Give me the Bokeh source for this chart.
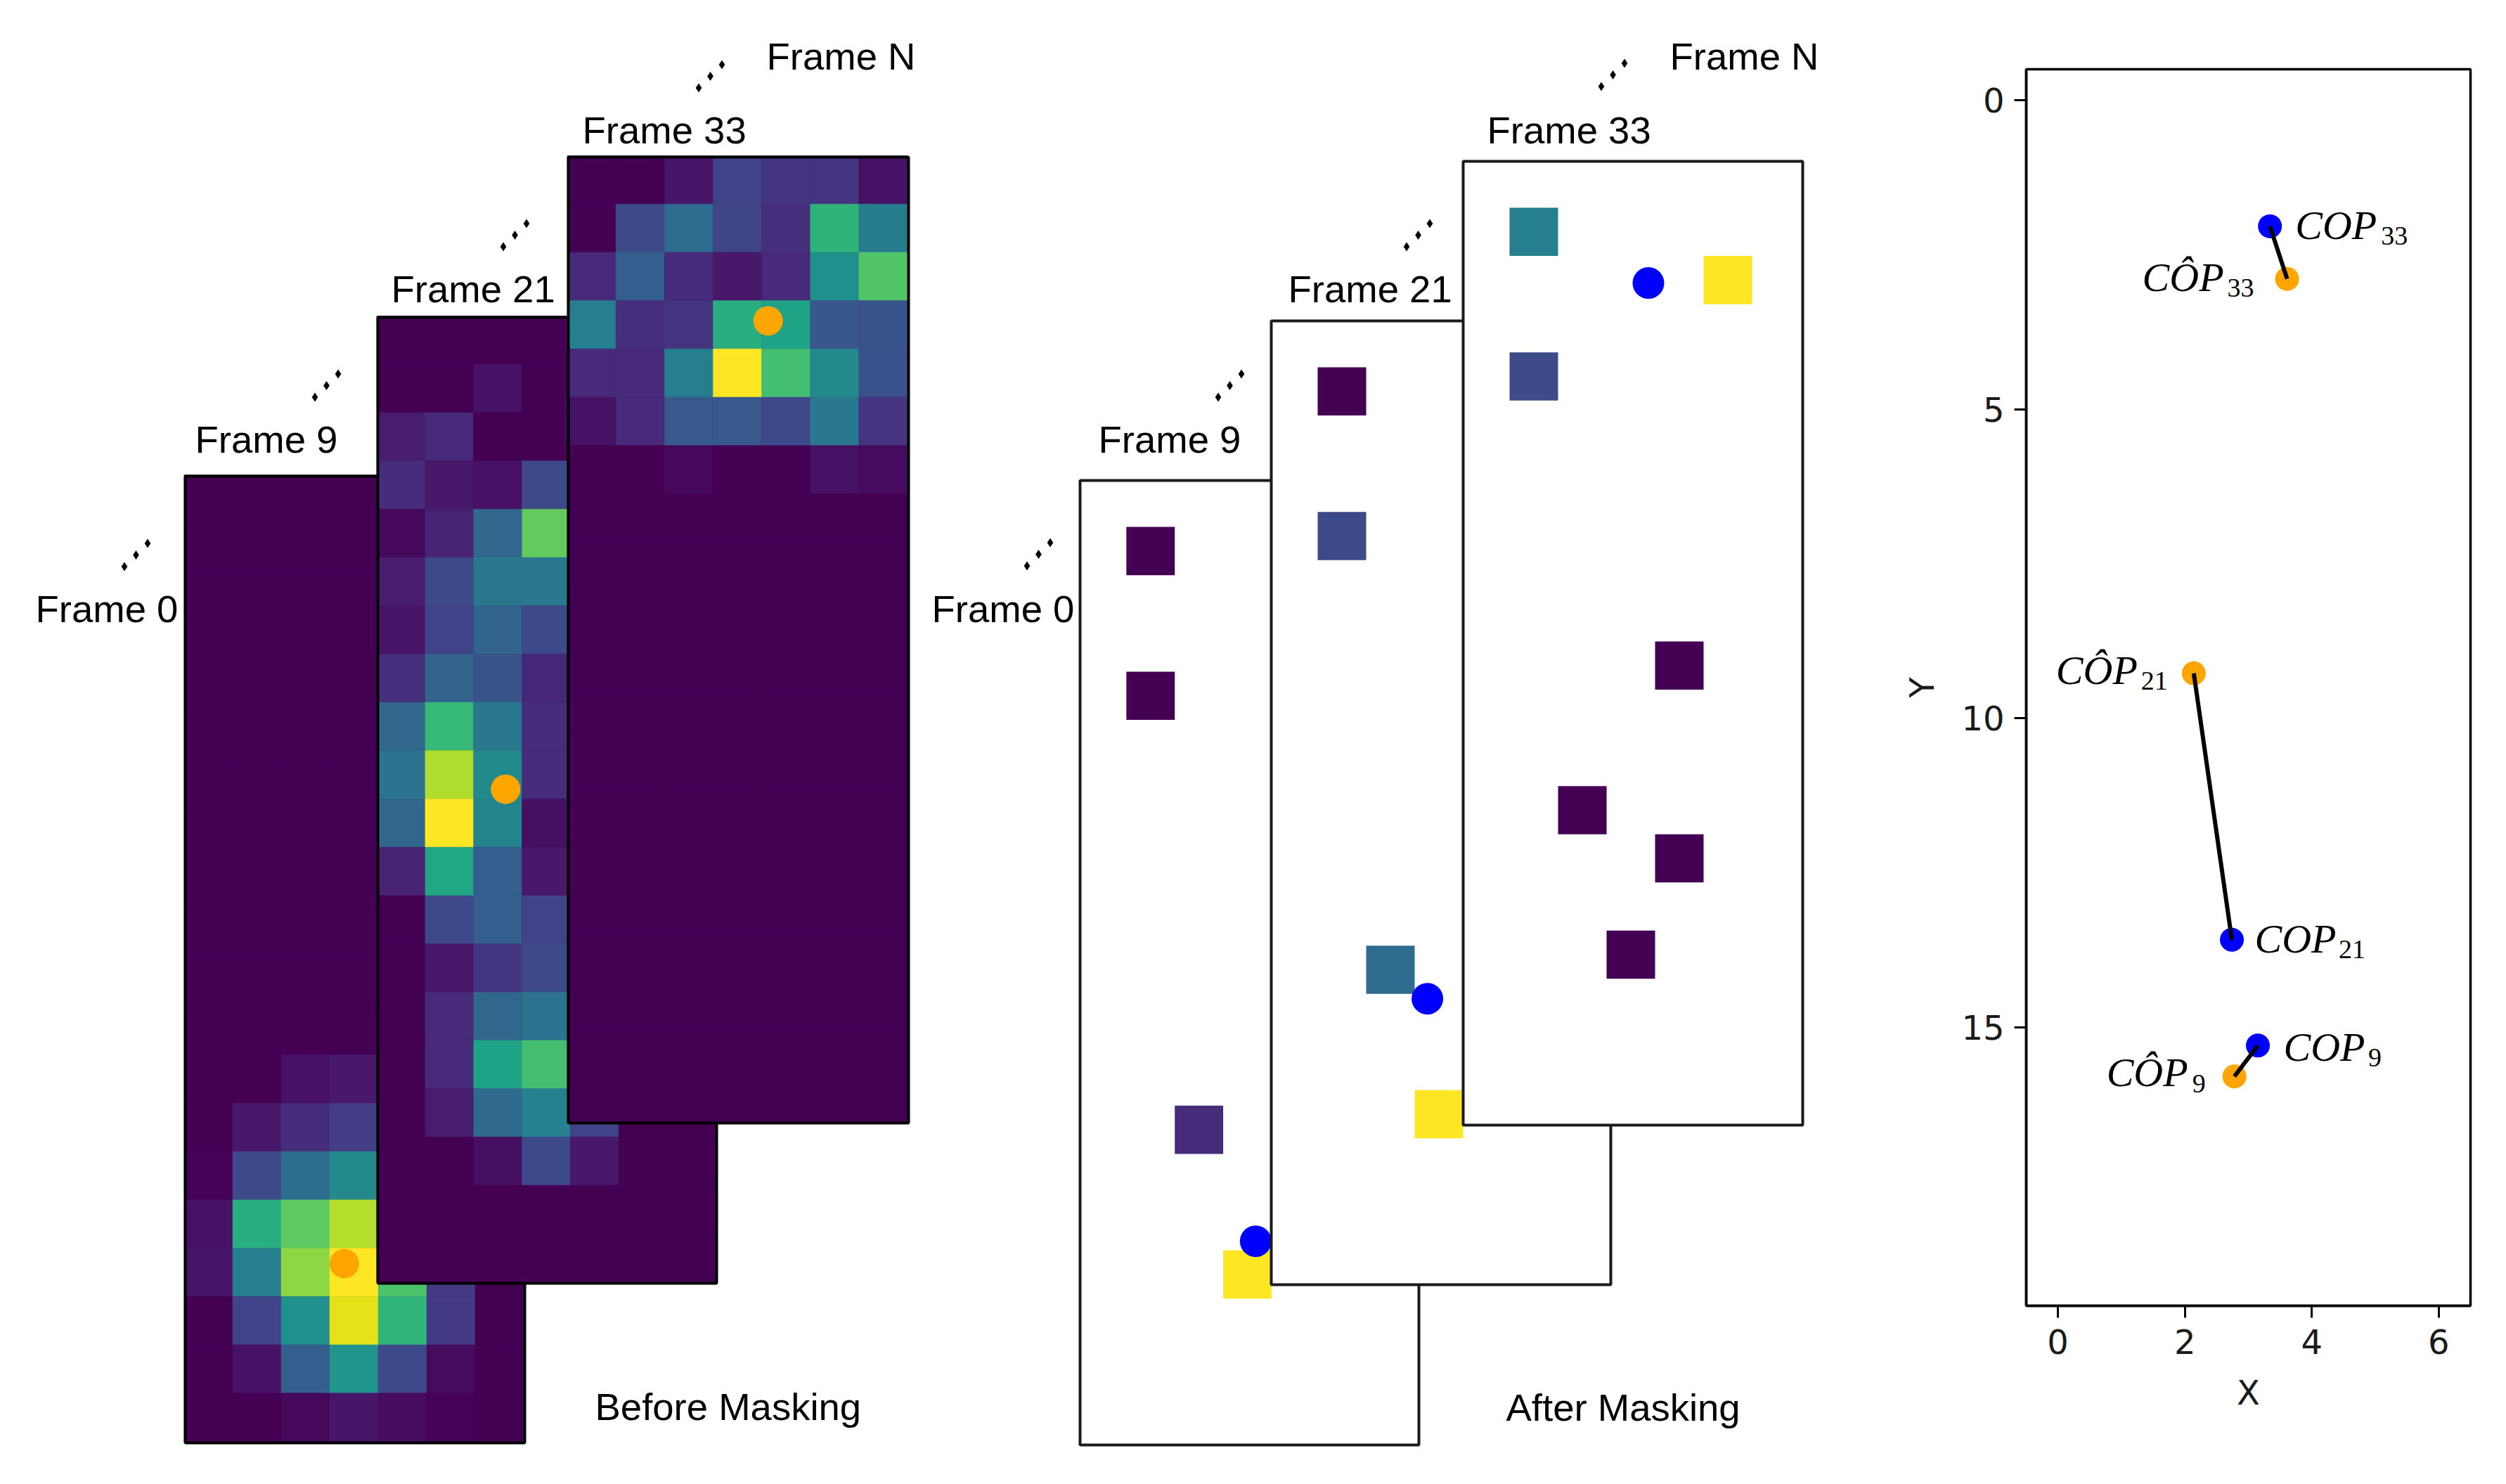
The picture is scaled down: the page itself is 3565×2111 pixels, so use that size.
from bokeh.plotting import figure
from bokeh.layouts import row, column
from bokeh.models import Range1d, ColumnDataSource, LinearColorMapper, FixedTicker
from bokeh.palettes import Viridis256
from bokeh.transform import transform
from bokeh.core.properties import value
from bokeh.embed import file_html
from bokeh.resources import INLINE

# ---------- data ----------
HEAT_9 = [
    [0]*7, [0]*7, [0]*7, [0]*7, [0]*7, [0]*7, [0]*7, [0]*7, [0]*7, [0]*7, [0]*7, [0]*7,
    [0.00, 0.00, 0.05, 0.07, 0.00, 0.00, 0.00],
    [0.00, 0.07, 0.13, 0.18, 0.00, 0.00, 0.00],
    [0.01, 0.22, 0.36, 0.47, 0.00, 0.00, 0.00],
    [0.05, 0.63, 0.75, 0.89, 0.00, 0.00, 0.00],
    [0.06, 0.43, 0.83, 1.00, 0.72, 0.17, 0.00],
    [0.00, 0.20, 0.50, 0.96, 0.66, 0.17, 0.00],
    [0.00, 0.05, 0.30, 0.52, 0.22, 0.03, 0.00],
    [0.00, 0.00, 0.02, 0.06, 0.03, 0.01, 0.00],
]
HEAT_21 = [
    [0.00, 0.00, 0.00, 0.00, 0.00, 0.00, 0.00],
    [0.00, 0.00, 0.05, 0.00, 0.00, 0.00, 0.00],
    [0.08, 0.12, 0.00, 0.00, 0.00, 0.00, 0.00],
    [0.13, 0.07, 0.05, 0.22, 0.00, 0.00, 0.00],
    [0.02, 0.10, 0.33, 0.76, 0.00, 0.00, 0.00],
    [0.08, 0.22, 0.40, 0.40, 0.00, 0.00, 0.00],
    [0.06, 0.20, 0.32, 0.22, 0.00, 0.00, 0.00],
    [0.14, 0.32, 0.26, 0.11, 0.00, 0.00, 0.00],
    [0.33, 0.67, 0.40, 0.13, 0.00, 0.00, 0.00],
    [0.38, 0.88, 0.48, 0.13, 0.00, 0.00, 0.00],
    [0.33, 1.00, 0.45, 0.04, 0.00, 0.00, 0.00],
    [0.10, 0.60, 0.30, 0.07, 0.00, 0.00, 0.00],
    [0.00, 0.22, 0.30, 0.20, 0.00, 0.00, 0.00],
    [0.00, 0.07, 0.16, 0.22, 0.00, 0.00, 0.00],
    [0.00, 0.12, 0.33, 0.38, 0.00, 0.00, 0.00],
    [0.00, 0.12, 0.58, 0.70, 0.00, 0.00, 0.00],
    [0.00, 0.08, 0.34, 0.44, 0.20, 0.00, 0.00],
    [0.00, 0.00, 0.04, 0.22, 0.07, 0.00, 0.00],
    [0]*7, [0]*7,
]
HEAT_33 = [
    [0.00, 0.00, 0.06, 0.20, 0.15, 0.15, 0.05],
    [0.00, 0.22, 0.35, 0.21, 0.14, 0.65, 0.42],
    [0.12, 0.30, 0.13, 0.07, 0.12, 0.50, 0.73],
    [0.43, 0.14, 0.15, 0.63, 0.58, 0.27, 0.26],
    [0.12, 0.12, 0.43, 1.00, 0.70, 0.47, 0.25],
    [0.05, 0.12, 0.28, 0.28, 0.22, 0.40, 0.15],
    [0.00, 0.00, 0.02, 0.00, 0.00, 0.05, 0.03],
    [0]*7, [0]*7, [0]*7, [0]*7, [0]*7, [0]*7, [0]*7, [0]*7, [0]*7, [0]*7, [0]*7, [0]*7, [0]*7,
]

MASK_9_COL = [1, 1, 2, 3]
MASK_9_ROW = [1, 4, 13, 16]
MASK_9_VAL = [0.0, 0.0, 0.13, 1.0]
MASK_21_COL = [1, 1, 2, 3]
MASK_21_ROW = [1, 4, 13, 16]
MASK_21_VAL = [0.0, 0.22, 0.35, 1.0]
MASK_33_COL = [1, 5, 1, 4, 2, 4, 3]
MASK_33_ROW = [1, 2, 4, 10, 13, 14, 16]
MASK_33_VAL = [0.43, 1.0, 0.23, 0.0, 0.0, 0.0, 0.0]

COP_X = [3.15, 2.74, 3.34]        # frames 9, 21, 33
COP_Y = [15.29, 13.58, 2.04]
COP_HAT_X = [2.78, 2.14, 3.61]
COP_HAT_Y = [15.79, 9.27, 2.89]
SUBSCRIPTS = ["9", "21", "33"]

X_TICKS = [0, 2, 4, 6]
Y_TICKS = [0, 5, 10, 15]

STACK_LABELS = ["Frame 0", "Frame 9", "Frame 21", "Frame 33", "Frame N"]
CAPTIONS = ["Before Masking", "After Masking"]

# ---------- layout ----------
LEFT_W, H = 2668, 2095
RIGHT_W = 889
TEXT_LIFT = 19.5
mapper = LinearColorMapper(palette=Viridis256, low=0, high=1)

p = figure(width=LEFT_W, height=H, output_backend="svg", toolbar_location=None,
           x_range=Range1d(0, LEFT_W), y_range=Range1d(H, 0), min_border=0,
           outline_line_color=None, x_axis_location=None, y_axis_location=None)
p.grid.visible = False


def panel(name, l, t, r, b):
    """Extra ranges mapping imshow coordinates onto a frame rectangle (page px)."""
    sx = 7 / (r - l)
    sy = 20 / (b - t)
    xs = -0.5 - l * sx
    ye = -0.5 - t * sy
    p.extra_x_ranges[name] = Range1d(xs, xs + LEFT_W * sx)
    p.extra_y_ranges[name] = Range1d(ye + H * sy, ye)
    return dict(x_range_name=name, y_range_name=name)


def shifted(rect, dx, dy):
    l, t, r, b = rect
    return (l + dx, t + dy, r + dx, b + dy)


def heat_panel(name, rect, heat, hx, hy):
    kw = panel(name, *rect)
    kc = panel(name + "_cells", *shifted(rect, -1.5, -2))
    xs, ys, vs = [], [], []
    for r, rowv in enumerate(heat):
        for c, v in enumerate(rowv):
            xs.append(c); ys.append(r); vs.append(v)
    p.rect(x=[3], y=[9.5], width=[7], height=[20], fill_color=Viridis256[0], line_color=None, **kw)
    src = ColumnDataSource(dict(x=xs, y=ys, v=vs))
    p.rect("x", "y", width=1, height=1, source=src, fill_color=transform("v", mapper),
           line_color=transform("v", mapper), line_width=0.5, **kc)
    p.scatter([hx], [hy], size=42, marker="circle", fill_color="#ffa500", line_color=None, **kw)
    p.rect(x=[3], y=[9.5], width=[7], height=[20], fill_color=None, line_color="#000000",
           line_width=4, **kw)


def mask_panel(name, rect, cols, rows, vals, cx, cy):
    kw = panel(name, *rect)
    kc = panel(name + "_cells", *shifted(rect, -3, -2.5))
    kd = panel(name + "_dot", *shifted(rect, -1.5, -1))
    p.rect(x=[3], y=[9.5], width=[7], height=[20], fill_color="#ffffff", line_color=None, **kw)
    src = ColumnDataSource(dict(x=cols, y=rows, v=vals))
    p.rect("x", "y", width=1, height=1, source=src, fill_color=transform("v", mapper),
           line_color=None, **kc)
    p.scatter([cx], [cy], size=45, marker="circle", fill_color="#0000ff", line_color=None, **kd)
    p.rect(x=[3], y=[9.5], width=[7], height=[20], fill_color=None, line_color="#1a1a1a",
           line_width=4, **kw)


def labels(xs, ys, texts):
    p.text(x=xs, y=[v - TEXT_LIFT for v in ys], text=texts,
           text_font=value("Liberation Sans"), text_font_size="54.5px", text_color="#000000",
           text_align="left", text_baseline="alphabetic")


def dots(cx, cy):
    for dx in (-16.5, 0, 16.5):
        p.scatter([cx + dx], [cy - dx], marker="diamond", size=13,
                  fill_color="#000000", line_color=None)


# Before masking
heat_panel("b9", (263, 677, 746, 2052), HEAT_9, COP_HAT_X[0], COP_HAT_Y[0])
heat_panel("b21", (537, 451, 1019, 1825), HEAT_21, COP_HAT_X[1], COP_HAT_Y[1])
heat_panel("b33", (808, 223, 1292, 1597), HEAT_33, COP_HAT_X[2], COP_HAT_Y[2])
# After masking
mask_panel("a9", (1536, 683, 2018, 2055), MASK_9_COL, MASK_9_ROW, MASK_9_VAL, COP_X[0], COP_Y[0])
mask_panel("a21", (1808, 456, 2291, 1827), MASK_21_COL, MASK_21_ROW, MASK_21_VAL, COP_X[1], COP_Y[1])
mask_panel("a33", (2081, 229, 2564, 1600), MASK_33_COL, MASK_33_ROW, MASK_33_VAL, COP_X[2], COP_Y[2])

labels([50, 277, 556, 828, 1090], [885, 644, 430, 204, 99], STACK_LABELS)
labels([1325, 1562, 1832, 2115, 2375], [885, 644, 430, 204, 99], STACK_LABELS)
labels([846, 2142], [2020, 2021], CAPTIONS)

for c in [(193, 789), (464, 548), (732, 334), (1010, 108),
          (1477, 788), (1749, 548), (2017, 334), (2294, 106)]:
    dots(*c)

# ---------- scatter panel ----------
q = figure(width=RIGHT_W, height=H, output_backend="svg", toolbar_location=None,
           x_range=Range1d(-0.5, 6.5), y_range=Range1d(19.5, -0.5),
           min_border_left=214, min_border_right=43, min_border_top=98, min_border_bottom=238,
           x_axis_label="X", y_axis_label="Y")
q.grid.visible = False
q.outline_line_color = "#000000"
q.outline_line_width = 3.5
for ax, ticks, tick_standoff, label_standoff in ((q.xaxis[0], X_TICKS, 16, 24),
                                                 (q.yaxis[0], Y_TICKS, 14, 25)):
    ax.ticker = FixedTicker(ticks=ticks)
    ax.minor_tick_line_color = None
    ax.major_tick_in = 0
    ax.major_tick_out = 17
    ax.major_tick_line_width = 3
    ax.major_tick_line_color = "#000000"
    ax.axis_line_width = 3.5
    ax.axis_line_color = "#000000"
    ax.major_label_text_font = "DejaVu Sans"
    ax.major_label_text_font_size = "48px"
    ax.major_label_text_color = "#1a1a1a"
    ax.major_label_standoff = tick_standoff
    ax.axis_label_text_font = "DejaVu Sans"
    ax.axis_label_text_font_style = "normal"
    ax.axis_label_text_font_size = "48px"
    ax.axis_label_text_color = "#1a1a1a"
    ax.axis_label_standoff = label_standoff

q.scatter(COP_X, COP_Y, size=34, marker="circle", fill_color="#0000ff", line_color=None)
q.scatter(COP_HAT_X, COP_HAT_Y, size=34, marker="circle", fill_color="#ffa500", line_color=None)
q.segment(COP_X, COP_Y, COP_HAT_X, COP_HAT_Y, line_color="#000000", line_width=6)


def math_label(xs, ys, main, main_off, sub_off):
    q.text(xs, ys, text=main, text_font=value("Liberation Serif"), text_font_style="italic",
           text_font_size="58px", text_color="#000000", text_align="left",
           text_baseline="alphabetic", x_offset=[o[0] for o in main_off],
           y_offset=[o[1] - 19 for o in main_off])
    q.text(xs, ys, text=SUBSCRIPTS, text_font=value("Liberation Serif"),
           text_font_size="38px", text_color="#000000", text_align="left",
           text_baseline="alphabetic", x_offset=[o[0] for o in sub_off],
           y_offset=[o[1] - 13 for o in sub_off])


math_label(COP_X, COP_Y, ["COP"] * 3,
           [(36.5, 21), (32.5, 17.6), (36, 17.5)], [(157, 30), (152, 26.6), (158, 26.5)])
math_label(COP_HAT_X, COP_HAT_Y, ["CÔP"] * 3,
           [(-182, 13.7), (-196, 15), (-206, 17)], [(-60, 23), (-75, 24), (-85, 25.6)])

open("out.html", "w").write(file_html(row(column(p), column(q), spacing=0), INLINE))
